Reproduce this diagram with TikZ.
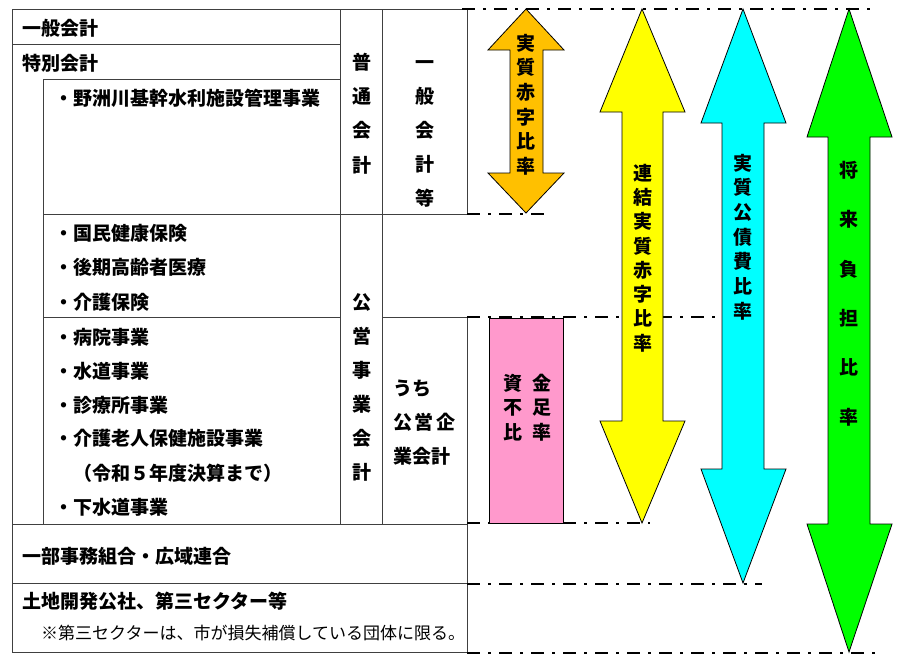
\documentclass[tikz,border=0pt]{standalone}
\usepackage{fontspec}
\newfontfamily\jp{Noto Sans CJK JP}
\newcommand\jst{\rule[-2.3pt]{0pt}{19pt}}
\definecolor{aorange}{HTML}{FFC000}
\definecolor{ayellow}{HTML}{FFFF00}
\definecolor{acyan}{HTML}{00FFFF}
\definecolor{agreen}{HTML}{00FF00}
\definecolor{apink}{HTML}{FF99CC}
\begin{document}
\begin{tikzpicture}[x=1pt,y=-1pt,
  tline/.style={draw=black!75,line width=1pt},
  ddline/.style={draw=black,line width=2.6pt,dash pattern=on 13pt off 8pt on 3pt off 8pt},
  arr/.style={draw=black,line width=0.8pt,line join=miter},
  lbl/.style={font=\jp\bfseries\fontsize{19}{23}\selectfont,inner sep=0pt,text height=16.7pt,text depth=2.3pt,anchor=west},
  note/.style={font=\jp\fontsize{17}{20}\selectfont,inner sep=0pt,text height=15pt,text depth=2pt,anchor=west},
  vt/.style={font=\jp\bfseries\fontsize{19}{#1}\selectfont,align=center,inner sep=0pt},
  vtl/.style={font=\jp\bfseries\fontsize{19}{#1}\selectfont,align=left,inner sep=0pt,anchor=west}
  ]
\useasboundingbox (0,0) rectangle (907,665);
% table frame
\draw[tline] (467,214) -- (467,9) -- (12,9) -- (12,524) -- (467,524) -- (467,317);
\draw[tline] (12,44) -- (340,44);
\draw[tline] (43,79) -- (340,79);
\draw[tline] (43,79) -- (43,524);
\draw[tline] (340,9) -- (340,524);
\draw[tline] (382,9) -- (382,524);
\draw[tline] (43,214) -- (467,214);
\draw[tline] (43,317) -- (340,317);
\draw[tline] (382,317) -- (467,317);
\draw[tline] (12,524) rectangle (467,583);
\draw[tline] (12,583) rectangle (467,652);
% dash-dot lines
\coordinate (d1a) at (462,9);   \coordinate (d1b) at (877,9);
\coordinate (d2a) at (467,214); \coordinate (d2b) at (548,214);
\coordinate (d3a) at (467,317); \coordinate (d3b) at (717,317);
\coordinate (d4a) at (467,523); \coordinate (d4b) at (650,523);
\coordinate (d5a) at (467,584); \coordinate (d5b) at (762,584);
\coordinate (d6a) at (467,653); \coordinate (d6b) at (880,653);
\draw[ddline] (d1a) -- (d1b);
\draw[ddline] (d2a) -- (d2b);
\draw[ddline] (d3a) -- (d3b);
\draw[ddline] (d4a) -- (d4b);
\draw[ddline] (d5a) -- (d5b);
\draw[ddline] (d6a) -- (d6b);
% pink box
\draw[arr,fill=apink] (489,318) rectangle (563,523);
% arrows
\draw[arr,fill=aorange] (526,9) -- (564,50) -- (543,50) -- (543,173) -- (564,173) -- (526,213) -- (488,173) -- (510,173) -- (510,50) -- (488,50) -- cycle;
\draw[arr,fill=ayellow] (642,9) -- (685,112) -- (663,112) -- (663,421) -- (685,421) -- (642,523) -- (600,421) -- (622,421) -- (622,112) -- (600,112) -- cycle;
\draw[arr,fill=acyan] (743,9) -- (786,123) -- (764,123) -- (764,469) -- (786,469) -- (743,583) -- (701,469) -- (722,469) -- (722,123) -- (701,123) -- cycle;
\draw[arr,fill=agreen] (849,9) -- (892,137) -- (870,137) -- (870,524) -- (892,524) -- (849,652) -- (807,524) -- (828,524) -- (828,137) -- (807,137) -- cycle;
% left texts
\node[lbl] (ippan) at (22,28) {一般会計};
\node[lbl] (tokubetsu) at (22,63) {特別会計};
\node[lbl] (yasu) at (54,98) {・野洲川基幹水利施設管理事業};
\node[lbl] (kokumin) at (54,233) {・国民健康保険};
\node[lbl] (kouki) at (54,267) {・後期高齢者医療};
\node[lbl] (kaigo) at (54,302) {・介護保険};
\node[lbl] (byoin) at (54,337) {・病院事業};
\node[lbl] (suido) at (54,371) {・水道事業};
\node[lbl] (shinryo) at (54,405) {・診療所事業};
\node[lbl] (roujin) at (54,438) {・介護老人保健施設事業};
\node[lbl] (reiwa) at (54,473) {　（令和５年度決算まで）};
\node[lbl] (gesui) at (54,507) {・下水道事業};
\node[lbl] (kumiai) at (22,556) {一部事務組合・広域連合};
\node[lbl] (tochi) at (22,601) {土地開発公社、第三セクター等};
\node[note] (kome) at (41,633) {※第三セクターは、市が損失補償している団体に限る。};
% column texts
\node[vt=34.3] (futsu) at (362,113.5) {\jst 普\\\jst 通\\\jst 会\\\jst 計};
\node[vt=34] (ippanto) at (425,130) {\jst 一\\\jst 般\\\jst 会\\\jst 計\\\jst 等};
\node[vt=34] (koei) at (362,387) {\jst 公\\\jst 営\\\jst 事\\\jst 業\\\jst 会\\\jst 計};
\node[vtl=34] (uchi) at (393,422) {\jst うち\\\jst 公\hspace{2.5pt}営\hspace{2.5pt}企\\\jst 業会計};
% arrow texts
\node[vt=24.6] (r1) at (526,104.5) {\jst 実\\\jst 質\\\jst 赤\\\jst 字\\\jst 比\\\jst 率};
\node[vt=24.3] (r2) at (643,258) {\jst 連\\\jst 結\\\jst 実\\\jst 質\\\jst 赤\\\jst 字\\\jst 比\\\jst 率};
\node[vt=24.7] (r3) at (743,237) {\jst 実\\\jst 質\\\jst 公\\\jst 債\\\jst 費\\\jst 比\\\jst 率};
\node[vt=49.4] (r4) at (849,293.5) {\jst 将\\\jst 来\\\jst 負\\\jst 担\\\jst 比\\\jst 率};
\node[vt=24.5] (shikin) at (527,407.5) {\jst 資\hspace{10pt}金\\\jst 不\hspace{10pt}足\\\jst 比\hspace{10pt}率};
\end{tikzpicture}
\end{document}
